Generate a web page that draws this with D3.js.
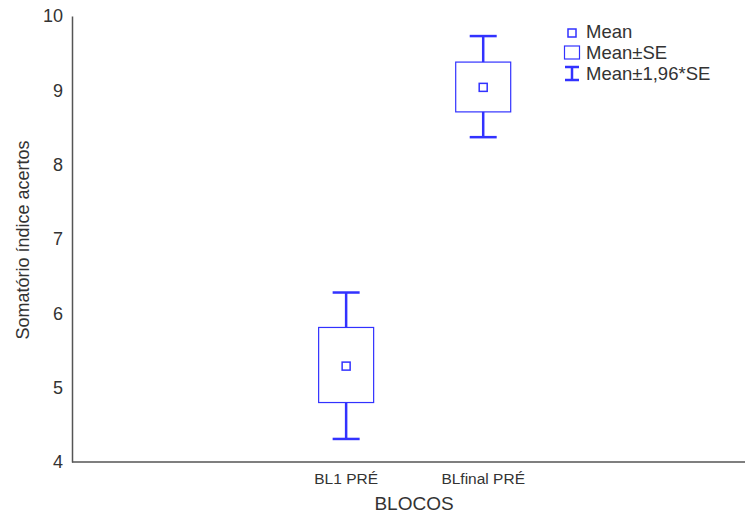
<!DOCTYPE html>
<html>
<head>
<meta charset="utf-8">
<script src="https://cdn.jsdelivr.net/npm/d3@7"></script>
<style>
  body { margin: 0; background: #fff; }
  text { font-family: "Liberation Sans", Arial, sans-serif; fill: #333; }
</style>
</head>
<body>
<div id="chart"></div>
<script>
// data
var categories = ["BL1 PRÉ", "BLfinal PRÉ"];
var means = [5.29, 9.04];
var seLow = [4.80, 8.71];
var seHigh = [5.81, 9.38];
var ciLow = [4.31, 8.37];
var ciHigh = [6.28, 9.73];
var yTicks = [4, 5, 6, 7, 8, 9, 10];
var legendLabels = ["Mean", "Mean±SE", "Mean±1,96*SE"];

var width = 745, height = 514;
var margin = {top: 16, right: 0, bottom: 52, left: 72};
var blue = "#3232ff";

var svg = d3.select("#chart").append("svg")
    .attr("width", width)
    .attr("height", height);

var y = d3.scaleLinear()
    .domain([4, 10])
    .range([height - margin.bottom, margin.top]);

// categories sit at the 3rd and 4th slot of a ~4.9 slot wide axis
var xIdx = d3.scaleLinear()
    .domain([-2, 2.91])
    .range([margin.left, width - margin.right]);
var x = function(i) { return xIdx(i); };

var boxW = 55, capW = 27;

// axes
var yAxis = svg.append("g")
    .attr("transform", "translate(" + margin.left + ",0)")
    .call(d3.axisLeft(y).tickValues(yTicks).tickFormat(d3.format("d")).tickSize(0).tickPadding(9));
yAxis.select(".domain").attr("stroke", "#555").attr("stroke-width", 1.5);
yAxis.selectAll("text").style("font-size", "18px").attr("fill", "#333")
    .style("font-family", "'Liberation Sans', Arial, sans-serif");

var xAxis = svg.append("g")
    .attr("transform", "translate(0," + y(4) + ")");
xAxis.append("line")
    .attr("x1", margin.left).attr("x2", width)
    .attr("stroke", "#555").attr("stroke-width", 1.5);
xAxis.selectAll("text.cat")
    .data(categories)
    .enter().append("text")
    .attr("class", "cat")
    .attr("x", function(d, i) { return x(i); })
    .attr("y", 22)
    .attr("text-anchor", "middle")
    .style("font-size", "15.5px")
    .text(function(d) { return d; });

// axis titles
svg.append("text")
    .attr("x", 414)
    .attr("y", 510)
    .attr("text-anchor", "middle")
    .style("font-size", "19px")
    .text("BLOCOS");

svg.append("text")
    .attr("transform", "translate(29," + 240 + ") rotate(-90)")
    .attr("text-anchor", "middle")
    .style("font-size", "18px")
    .text("Somatório índice acertos");

// whiskers and boxes
var g = svg.append("g");
categories.forEach(function(c, i) {
    var cx = x(i);
    g.append("line")
        .attr("x1", cx).attr("x2", cx)
        .attr("y1", y(ciHigh[i])).attr("y2", y(seHigh[i]))
        .attr("stroke", blue).attr("stroke-width", 2.5);
    g.append("line")
        .attr("x1", cx).attr("x2", cx)
        .attr("y1", y(seLow[i])).attr("y2", y(ciLow[i]))
        .attr("stroke", blue).attr("stroke-width", 2.5);
    g.append("line")
        .attr("x1", cx - capW / 2).attr("x2", cx + capW / 2)
        .attr("y1", y(ciHigh[i])).attr("y2", y(ciHigh[i]))
        .attr("stroke", blue).attr("stroke-width", 2.5);
    g.append("line")
        .attr("x1", cx - capW / 2).attr("x2", cx + capW / 2)
        .attr("y1", y(ciLow[i])).attr("y2", y(ciLow[i]))
        .attr("stroke", blue).attr("stroke-width", 2.5);
    g.append("rect")
        .attr("x", cx - boxW / 2)
        .attr("y", y(seHigh[i]))
        .attr("width", boxW)
        .attr("height", y(seLow[i]) - y(seHigh[i]))
        .attr("fill", "none").attr("stroke", blue).attr("stroke-width", 1.2);
    g.append("rect")
        .attr("x", cx - 4)
        .attr("y", y(means[i]) - 4)
        .attr("width", 8).attr("height", 8)
        .attr("fill", "none").attr("stroke", blue).attr("stroke-width", 1.5);
});

// legend
var lg = svg.append("g").attr("transform", "translate(572,0)");
lg.append("rect").attr("x", -4).attr("y", 29).attr("width", 8).attr("height", 8)
    .attr("fill", "none").attr("stroke", blue).attr("stroke-width", 1.5);
lg.append("rect").attr("x", -7.5).attr("y", 46).attr("width", 15).attr("height", 13)
    .attr("fill", "none").attr("stroke", blue).attr("stroke-width", 1.2);
lg.append("line").attr("x1", 0).attr("x2", 0).attr("y1", 67).attr("y2", 80)
    .attr("stroke", blue).attr("stroke-width", 2.5);
lg.append("line").attr("x1", -7).attr("x2", 7).attr("y1", 67).attr("y2", 67)
    .attr("stroke", blue).attr("stroke-width", 2.5);
lg.append("line").attr("x1", -7).attr("x2", 7).attr("y1", 80).attr("y2", 80)
    .attr("stroke", blue).attr("stroke-width", 2.5);
lg.selectAll("text.leg")
    .data(legendLabels)
    .enter().append("text")
    .attr("class", "leg")
    .attr("x", 14)
    .attr("y", function(d, i) { return 38 + i * 21; })
    .style("font-size", "18.5px")
    .text(function(d) { return d; });
</script>
</body>
</html>
